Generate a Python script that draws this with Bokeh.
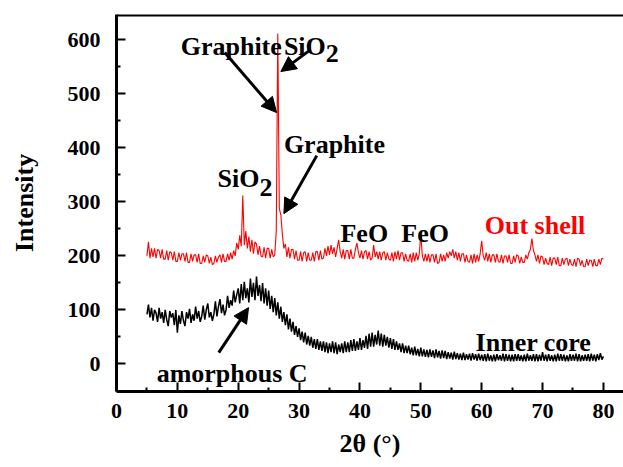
import numpy as np
from bokeh.plotting import figure
from bokeh.models import (ColumnDataSource, Range1d, FixedTicker, Span,
                          Label, Arrow, NormalHead)
from bokeh.embed import file_html
from bokeh.resources import INLINE

# ---------------- data ----------------
two_theta = np.linspace(5, 80, 301)  # 0.25 degree grid

inner_core = [
    92, 110, 86, 104,   # 5
    80, 100, 94, 78,    # 6
    104, 84, 96, 76,    # 7
    100, 82, 70, 98,    # 8
    86, 94, 72, 100,    # 9
    58, 90, 74, 98,     # 10
    80, 70, 96, 84,     # 11
    102, 76, 92, 80,    # 12
    106, 84, 98, 78,    # 13
    88, 108, 82, 100,   # 14
    112, 86, 96, 80,    # 15
    92, 116, 88, 106,   # 16
    120, 94, 110, 90,   # 17
    100, 126, 104, 118, # 18
    108, 136, 114, 128, # 19
    140, 112, 148, 118, # 20
    152, 122, 140, 114, # 21
    158, 124, 150, 118, # 22
    162, 126, 146, 116, # 23
    150, 112, 140, 108, # 24
    136, 102, 126, 96,  # 25
    122, 90, 114, 84,   # 26
    106, 78, 96, 72,    # 27
    92, 64, 84, 60,     # 28
    78, 54, 70, 50,     # 29
    66, 44, 60, 40,     # 30
    58, 36, 52, 34,     # 31
    50, 30, 46, 28,     # 32
    46, 26, 42, 24,     # 33
    42, 22, 40, 20,     # 34
    38, 22, 42, 20,     # 35
    40, 18, 36, 22,     # 36
    38, 20, 42, 22,     # 37
    40, 22, 44, 24,     # 38
    46, 24, 42, 26,     # 39
    48, 26, 44, 30,     # 40
    52, 28, 56, 32,     # 41
    58, 32, 54, 36,     # 42
    62, 34, 56, 32,     # 43
    54, 34, 50, 30,     # 44
    48, 28, 46, 26,     # 45
    42, 26, 38, 22,     # 46
    38, 20, 34, 20,     # 47
    34, 18, 30, 16,     # 48
    32, 16, 28, 14,     # 49
    30, 14, 27, 13,     # 50
    26, 12, 27, 13,     # 51
    25, 11, 27, 12,     # 52
    24, 10, 25, 11,     # 53
    24, 9, 22, 10,      # 54
    21, 8, 23, 9,       # 55
    20, 8, 19, 7,       # 56
    21, 7, 18, 8,       # 57
    19, 6, 20, 8,       # 58
    18, 6, 19, 7,       # 59
    17, 6, 18, 5,       # 60
    19, 6, 16, 5,       # 61
    17, 5, 18, 7,       # 62
    16, 6, 19, 5,       # 63
    18, 6, 17, 5,       # 64
    17, 5, 18, 6,       # 65
    18, 6, 16, 5,       # 66
    17, 5, 19, 6,       # 67
    16, 6, 18, 5,       # 68
    18, 5, 17, 6,       # 69
    22, 6, 17, 5,       # 70
    18, 6, 16, 5,       # 71
    17, 5, 19, 6,       # 72
    18, 6, 17, 5,       # 73
    16, 5, 18, 6,       # 74
    17, 6, 19, 5,       # 75
    18, 5, 16, 6,       # 76
    17, 6, 18, 5,       # 77
    19, 6, 17, 5,       # 78
    18, 7, 20, 8,       # 79
    14,                 # 80
]

out_shell = [
    200, 226, 196, 214,  # 5
    198, 214, 196, 212,  # 6
    210, 196, 212, 194,  # 7
    194, 210, 192, 208,  # 8
    206, 192, 208, 190,  # 9
    190, 206, 192, 204,  # 10
    204, 190, 206, 188,  # 11
    188, 204, 190, 202,  # 12
    202, 188, 204, 186,  # 13
    186, 200, 188, 202,  # 14
    200, 186, 198, 184,  # 15
    186, 200, 188, 198,  # 16
    202, 188, 204, 190,  # 17
    190, 204, 192, 206,  # 18
    194, 210, 200, 224,  # 19
    212, 238, 218, 312,  # 20
    220, 246, 214, 236,  # 21
    208, 230, 204, 226,  # 22
    222, 202, 218, 200,  # 23
    198, 216, 196, 214,  # 24
    214, 196, 212, 198,  # 25
    202, 246, 612, 288,  # 26
    276, 240, 214, 222,  # 27
    198, 216, 196, 212,  # 28
    212, 194, 210, 192,  # 29
    192, 208, 190, 206,  # 30
    208, 190, 206, 192,  # 31
    192, 206, 190, 208,  # 32
    208, 192, 210, 194,  # 33
    196, 214, 200, 218,  # 34
    202, 220, 204, 216,  # 35
    198, 214, 230, 208,  # 36
    196, 212, 194, 210,  # 37
    210, 194, 212, 196,  # 38
    196, 212, 224, 206,  # 39
    196, 210, 194, 208,  # 40
    210, 194, 208, 192,  # 41
    196, 220, 198, 208,  # 42
    194, 208, 192, 206,  # 43
    208, 192, 206, 194,  # 44
    192, 206, 190, 208,  # 45
    194, 210, 192, 206,  # 46
    206, 190, 204, 192,  # 47
    190, 204, 188, 206,  # 48
    190, 206, 192, 204,  # 49
    240, 200, 190, 204,  # 50
    190, 204, 188, 202,  # 51
    202, 188, 204, 186,  # 52
    188, 204, 190, 202,  # 53
    190, 206, 196, 208,  # 54
    200, 212, 196, 208,  # 55
    192, 206, 190, 204,  # 56
    204, 188, 202, 190,  # 57
    188, 202, 186, 204,  # 58
    188, 202, 190, 204,  # 59
    228, 200, 192, 206,  # 60
    190, 204, 188, 202,  # 61
    202, 188, 204, 190,  # 62
    188, 202, 186, 200,  # 63
    200, 188, 202, 186,  # 64
    186, 200, 188, 202,  # 65
    200, 186, 198, 188,  # 66
    188, 202, 194, 206,  # 67
    212, 232, 210, 202,  # 68
    190, 202, 186, 200,  # 69
    198, 184, 196, 186,  # 70
    184, 198, 182, 196,  # 71
    196, 184, 198, 182,  # 72
    182, 196, 184, 194,  # 73
    196, 182, 194, 184,  # 74
    182, 194, 180, 196,  # 75
    194, 182, 192, 180,  # 76
    180, 194, 182, 192,  # 77
    192, 180, 194, 182,  # 78
    182, 194, 184, 196,  # 79
    194,                 # 80
]

x_ticks = [0, 10, 20, 30, 40, 50, 60, 70, 80]
x_minor_ticks = [5, 15, 25, 35, 45, 55, 65, 75]
y_ticks = [0, 100, 200, 300, 400, 500, 600]
y_minor_ticks = [50, 150, 250, 350, 450, 550]

FONT = "Liberation Serif"

src = ColumnDataSource(dict(x=two_theta, inner=inner_core, outer=out_shell))

p = figure(width=623, height=467, output_backend="svg", toolbar_location=None,
           x_range=Range1d(0, 83.3), y_range=Range1d(-51, 647),
           min_border_left=116, min_border_right=0, min_border_top=14,
           min_border_bottom=76)
p.grid.visible = False
p.outline_line_color = None
p.background_fill_color = "white"
p.border_fill_color = "white"

xb = p.xaxis[0]
yl = p.yaxis[0]
xb.ticker = FixedTicker(ticks=x_ticks, minor_ticks=x_minor_ticks)
yl.ticker = FixedTicker(ticks=y_ticks, minor_ticks=y_minor_ticks)

for ax in (xb, yl):
    ax.axis_line_width = 3
    ax.axis_line_color = "black"
    ax.major_tick_in = 9
    ax.major_tick_out = 0
    ax.major_tick_line_width = 2
    ax.minor_tick_in = 4
    ax.minor_tick_out = 0
    ax.minor_tick_line_width = 2
    ax.major_label_text_font = FONT
    ax.major_label_text_font_size = "22px"
    ax.major_label_text_font_style = "bold"
    ax.major_label_text_color = "black"
    ax.axis_label_text_font = FONT
    ax.axis_label_text_font_size = "26px"
    ax.axis_label_text_font_style = "bold"
    ax.axis_label_text_color = "black"

xb.axis_label = "2θ (°)"
yl.axis_label = "Intensity"
xb.major_label_standoff = 12
yl.major_label_standoff = 16
xb.axis_label_standoff = 8
yl.axis_label_standoff = 26

# top frame line
p.add_layout(Span(location=646, dimension="width", line_color="black", line_width=3))

p.line("x", "inner", source=src, color="black", line_width=1.5)
p.line("x", "outer", source=src, color="#ff0000", line_width=1.1)

def lab(x, y, text, color="black", size="26px"):
    p.add_layout(Label(x=x, y=y, text=text, text_font=FONT, text_font_size=size,
                       text_font_style="bold", text_color=color,
                       text_baseline="alphabetic"))

lab(10.55, 587.6, "Graphite")
lab(27.5, 587.6, "SiO")
lab(34.4, 574.6, "2")
lab(27.5, 406.1, "Graphite")
lab(16.6, 342.6, "SiO")
lab(23.5, 327.0, "2")
lab(36.8, 240.7, "FeO")
lab(46.8, 240.7, "FeO")
lab(60.5, 256.1, "Out shell", color="#ff0000")
lab(59.0, 40.0, "Inner core")
lab(6.6, -18.5, "amorphous C")

def arrow(xs, ys, xe, ye):
    p.add_layout(Arrow(end=NormalHead(size=15, fill_color="black", line_color="black",
                                      line_width=1),
                       x_start=xs, y_start=ys, x_end=xe, y_end=ye,
                       line_width=3, line_color="black"))

arrow(17.78, 576.5, 26.3, 465.4)
arrow(31.9, 582.0, 27.0, 541.3)
arrow(32.9, 385.7, 27.5, 278.3)
arrow(16.8, 20.9, 21.7, 104.3)

open("out.html", "w").write(file_html(p, INLINE))
